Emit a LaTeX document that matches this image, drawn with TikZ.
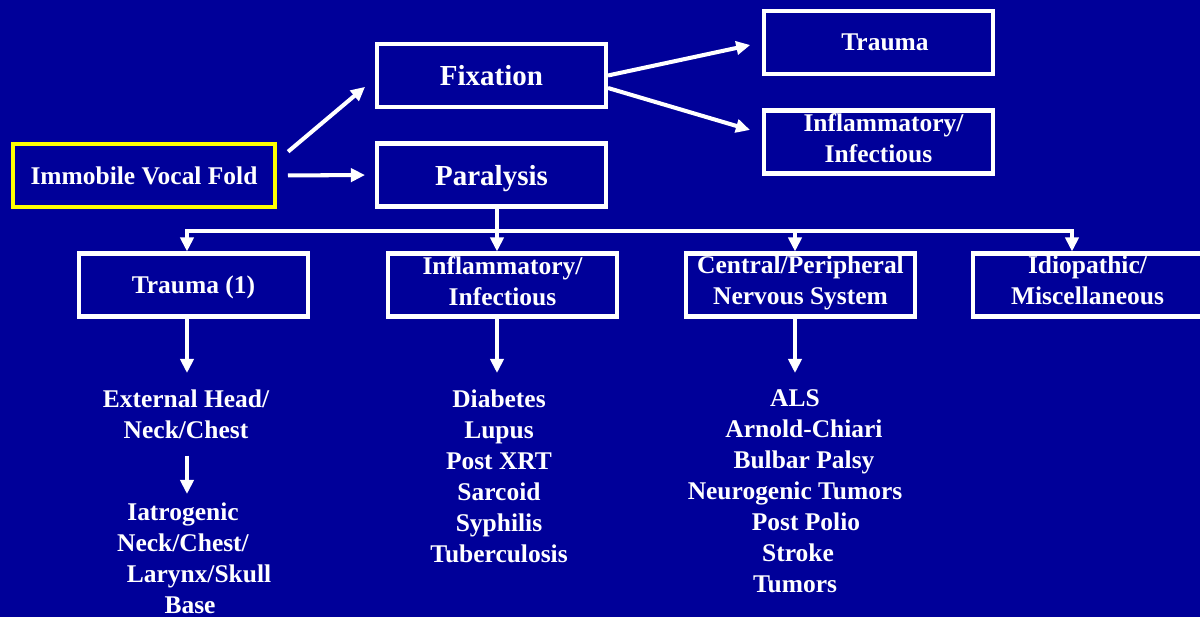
\documentclass[tikz,border=0pt]{standalone}
\usepackage{fontspec}
\setmainfont{Liberation Serif}
\usetikzlibrary{calc,arrows.meta}
\definecolor{slideblue}{RGB}{0,0,153}
\definecolor{boxyellow}{RGB}{255,255,0}
\tikzset{
	box/.style={draw=white, line width=2.3pt, inner sep=0pt, minimum width=4.58cm, minimum height=1.26cm, align=center, text=white, font=\bfseries\fontsize{14.5}{17.6}\selectfont},
	bigbox/.style={box, text depth=0pt, font=\bfseries\fontsize{16.5}{20}\selectfont},
	lst/.style={inner sep=0pt, outer sep=9.6pt, align=center, text=white, font=\bfseries\fontsize{14.5}{17.6}\selectfont},
	arr/.style={white, line width=2.3pt, -{Triangle[length=8pt,width=7.5pt]}},
	wire/.style={white, line width=2.3pt}
}

\begin{document}
\begin{tikzpicture}[x=0.02cm, y=-0.02cm]
		%%%%% START %%%%%
		\fill[slideblue] (0, 0) rectangle (1200, 617);
		\useasboundingbox (0, 0) rectangle (1200, 617);
		
		\node[box, draw=boxyellow, minimum width=5.24cm] (ivf) at (144, 175.5) {Immobile Vocal Fold};
		\node[bigbox] (fix) at (491.5, 75.5) {Fixation};
		\node[bigbox] (par) at (491.5, 175) {Paralysis};
		\node[box] (ttop) at (878.5, 42.5) {\hspace*{0.26cm}Trauma};
		\node[box] (itop) at (878.5, 142) {\hspace*{0.2cm}Inflammatory/\\Infectious\\[-12.6pt]};
		
		\draw[arr, shorten <=0.29cm, shorten >=0.26cm] ([yshift=0.29cm]ivf.east) -- ([yshift=-0.06cm]fix.west);
		\draw[arr, shorten <=0.22cm, shorten >=0.2cm] (ivf.east) -- (par.west);
		\draw[arr, shorten >=0.24cm] (fix.east) -- (ttop.west);
		\draw[arr, shorten >=0.25cm] ([yshift=-0.25cm]fix.east) -- ([yshift=0.17cm]itop.west);
		
		\node[box, text depth=0pt] (t1) at (193.5, 285) {Trauma (1)};
		\node[box] (i1) at (502.5, 285) {Inflammatory/\\Infectious\\[-12.6pt]};
		\node[box] (c1) at (800.5, 285) {Central/Peripheral\\Nervous System\\[-12.6pt]};
		\node[box] (d1) at (1087.5, 285) {Idiopathic/\\Miscellaneous\\[-12.6pt]};
		
		\coordinate (bT) at (187, 231);
		\coordinate (bI) at (497, 231);
		\coordinate (bC) at (795, 231);
		\coordinate (bD) at (1072, 231);
		\draw[wire] (par.south -| bI) -- (bI);
		\draw[wire, line cap=rect] (bT) -- (bD);
		\draw[arr] (bT) -- (bT |- t1.north);
		\draw[arr] (bI) -- (bI |- i1.north);
		\draw[arr] (bC) -- (bC |- c1.north);
		\draw[arr] (bD) -- (bD |- d1.north);
		
		\node[lst, anchor=north] (ext) at (186, 373) {External Head/\\Neck/Chest};
		\node[lst, anchor=north, outer sep=5pt] (iat) at (183, 494) {Iatrogenic\\Neck/Chest/\\\hspace*{0.64cm}Larynx/Skull\\\hspace*{0.28cm}Base};
		\node[lst, anchor=north] (inl) at (499, 373) {Diabetes\\Lupus\\Post XRT\\Sarcoid\\Syphilis\\Tuberculosis};
		\node[lst, anchor=north] (cnl) at (795, 373) {ALS\\\hspace*{0.36cm}Arnold-Chiari\\\hspace*{0.36cm}Bulbar Palsy\\Neurogenic Tumors\\\hspace*{0.44cm}Post Polio\\\hspace*{0.12cm}Stroke\\Tumors};
		
		\draw[arr] (t1.south -| bT) -- (bT |- ext.north);
		\draw[arr] (ext.south -| bT) -- (bT |- iat.north);
		\draw[arr] (i1.south -| bI) -- (bI |- inl.north);
		\draw[arr] (c1.south -| bC) -- (bC |- cnl.north);
		%%%%% END %%%%%
	\end{tikzpicture}
\end{document}
